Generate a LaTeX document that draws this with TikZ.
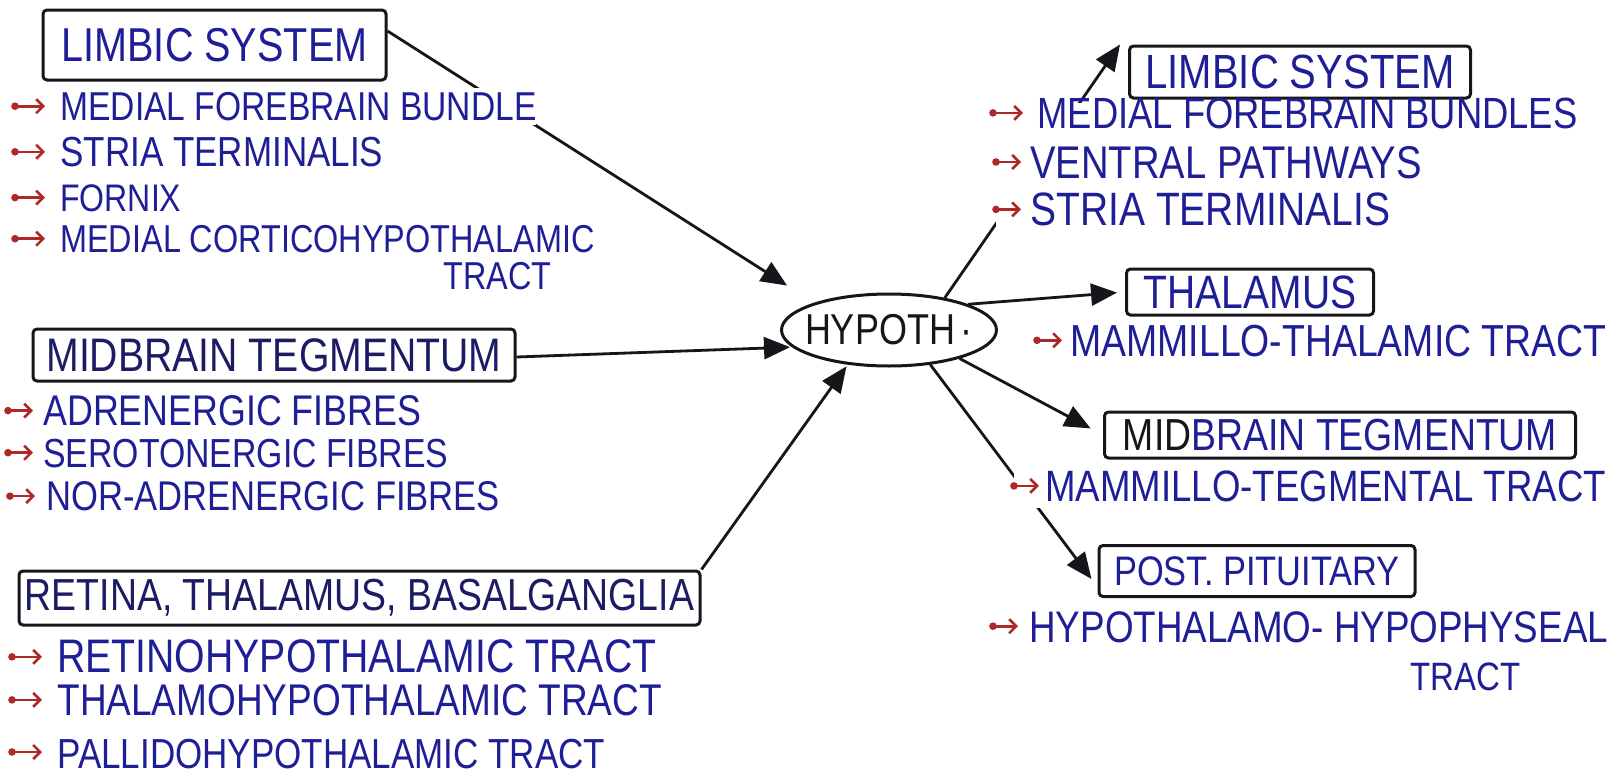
\documentclass[tikz,border=0pt]{standalone}
\usepackage{fontspec}
\setmainfont{Liberation Sans}
\usetikzlibrary{arrows.meta,shapes.geometric}
\definecolor{ink}{RGB}{22,22,26}
\definecolor{penblue}{RGB}{30,30,150}
\definecolor{navy}{RGB}{28,28,100}
\definecolor{bulred}{RGB}{175,40,40}
\newcommand\fsz[1]{\fontsize{#1}{#1}\selectfont}
\newcommand\tall[1]{\scalebox{1}[1.2]{#1}}
\begin{document}
\begin{tikzpicture}[x=0.5pt,y=-0.5pt,
  titlebox/.style={draw=ink, line width=1.5pt, rounded corners=2pt, text=penblue, inner sep=0pt},
  item/.style={anchor=base west, text=penblue, fill=white, inner xsep=0pt, inner ysep=2pt},
  link/.style={draw=ink, line width=1.4pt, -{Triangle[length=13pt,width=11pt]}},
  bul/.pic={\fill[bulred] (0,0) circle (1.9pt);
            \draw[bulred, line width=1.3pt, -{Straight Barb[length=3.5pt,width=7pt]}] (0,0) -- (15pt,0);},
  buls/.pic={\fill[bulred] (0,0) circle (1.9pt);
            \draw[bulred, line width=1.3pt, -{Straight Barb[length=3.5pt,width=7pt]}] (0,0) -- (12.5pt,0);}
]
\fill[white] (0,0) rectangle (1614,777);
\useasboundingbox (0,0) rectangle (1614,777);

% boxes
\node[titlebox, minimum width=171.5pt, minimum height=35pt, font=\fsz{19.8}] (limbL) at (214.5,45) {\tall{LIMBIC SYSTEM}};
\node[titlebox, text=navy, minimum width=241pt, minimum height=26pt, font=\fsz{19.6}] (midL) at (274,355) {\tall{MIDBRAIN TEGMENTUM}};
\node[titlebox, text=navy, minimum width=340.5pt, minimum height=27pt, font=\fsz{18.7}] (retina) at (359.5,598) {\tall{RETINA, THALAMUS, BASALGANGLIA}};
\node[ellipse, draw=ink, line width=1.5pt, inner xsep=-4pt, inner ysep=0pt, minimum width=104pt, minimum height=36pt, font=\fsz{18}, text=ink] (hypoth) at (889,330) {\tall{HYPOTH\hspace{3pt}·}};
\node[titlebox, minimum width=170.5pt, minimum height=26pt, font=\fsz{20}] (limbR) at (1300,72) {\tall{LIMBIC SYSTEM}};
\node[titlebox, minimum width=123.5pt, minimum height=23pt, font=\fsz{19.5}] (thal) at (1250,292) {\tall{THALAMUS}};
\node[titlebox, minimum width=235.5pt, minimum height=23pt, font=\fsz{18.7}] (midR) at (1340,435) {\tall{\textcolor{ink}{MID}BRAIN TEGMENTUM}};
\node[titlebox, minimum width=158pt, minimum height=25.5pt, font=\fsz{17.2}] (postpit) at (1257,571) {\tall{POST. PITUITARY}};

% connectors
\draw[link, shorten >=16pt] ([yshift=7pt]limbL.east) -- (hypoth.160);
\draw[link, shorten >=1pt] ([yshift=-1pt]midL.east) -- (hypoth.190);
\draw[link, shorten >=1pt] (retina.north east) -- (hypoth.220);
\draw[link] (hypoth.30) -- ([xshift=-4pt]limbR.north west);
\draw[link, shorten >=4pt] (hypoth.18) -- (thal.west);
\draw[link, shorten >=7pt] (hypoth.338) -- (midR.west);
\draw[link, shorten >=5pt] (hypoth.320) -- ([yshift=-8pt]postpit.west);

% left top list
\node[item, font=\fsz{16.8}] (lt1) at (15,120.4) {\hspace*{22.5pt}\tall{MEDIAL FOREBRAIN BUNDLE}};
\node[item, font=\fsz{17.5}] (lt2) at (15,166) {\hspace*{22.5pt}\tall{STRIA TERMINALIS}};
\node[item, font=\fsz{16}] (lt3) at (15,211.8) {\hspace*{22.5pt}\tall{FORNIX}};
\node[item, font=\fsz{16.2}] (lt4) at (15,252.9) {\hspace*{22.5pt}\tall{MEDIAL CORTICOHYPOTHALAMIC}};
\node[item, font=\fsz{16.2}] (lt5) at (443,289.9) {\tall{TRACT}};
\foreach \n in {lt1,lt2,lt3,lt4} \pic at ([yshift=7.1pt]\n.base west) {bul};

% left middle list
\node[item, font=\fsz{17.9}] (lm1) at (8,425.4) {\hspace*{17.5pt}\tall{ADRENERGIC FIBRES}};
\node[item, font=\fsz{16.9}] (lm2) at (8,467.5) {\hspace*{17.5pt}\tall{SEROTONERGIC FIBRES}};
\node[item, font=\fsz{17.3}] (lm3) at (10,510.9) {\hspace*{18pt}\tall{NOR-ADRENERGIC FIBRES}};
\foreach \n in {lm1,lm2,lm3} \pic at ([yshift=7.4pt]\n.base west) {buls};

% left bottom list
\node[item, font=\fsz{19.6}] (lb1) at (12,672.9) {\hspace*{22.5pt}\tall{RETINOHYPOTHALAMIC TRACT}};
\node[item, font=\fsz{18.5}] (lb2) at (12,715.9) {\hspace*{22.5pt}\tall{THALAMOHYPOTHALAMIC TRACT}};
\node[item, font=\fsz{17.5}] (lb3) at (12,768) {\hspace*{22.5pt}\tall{PALLIDOHYPOTHALAMIC TRACT}};
\foreach \n in {lb1,lb2,lb3} \pic at ([yshift=8pt]\n.base west) {bul};

% right top list
\node[item, font=\fsz{18.2}, inner ysep=0pt, text height=13pt, text depth=11pt] (rt1) at (993,128.7) {\hspace*{22pt}\tall{MEDIAL FOREBRAIN BUNDLES}};
\node[item, font=\fsz{19.1}, inner ysep=0pt, text height=14pt, text depth=11pt] (rt2) at (996,178.4) {\hspace*{17pt}\tall{VENTRAL PATHWAYS}};
\node[item, font=\fsz{19.5}, inner ysep=0pt, text height=14pt, text depth=2pt] (rt3) at (996,225.8) {\hspace*{17pt}\tall{STRIA TERMINALIS}};
\pic at ([yshift=7.9pt]rt1.base west) {bul};
\foreach \n in {rt2,rt3} \pic at ([yshift=8.2pt]\n.base west) {buls};

% right lower lists
\node[item, font=\fsz{18.7}] (rth) at (1037,356.1) {\hspace*{16.5pt}\tall{MAMMILLO-THALAMIC TRACT}};
\node[item, font=\fsz{18.3}, inner ysep=3pt] (rtg) at (1014,501.7) {\hspace*{15.5pt}\tall{MAMMILLO-TEGMENTAL TRACT}};
\node[item, font=\fsz{18.4}, inner ysep=0pt] (rh1) at (993,642) {\hspace*{18pt}\tall{HYPOTHALAMO- HYPOPHYSEAL}};
\node[item, font=\fsz{16.5}, inner ysep=0pt] (rh2) at (1410,690) {\tall{TRACT}};
\foreach \n in {rth,rtg,rh1} \pic at ([yshift=7.9pt]\n.base west) {buls};
\end{tikzpicture}
\end{document}
